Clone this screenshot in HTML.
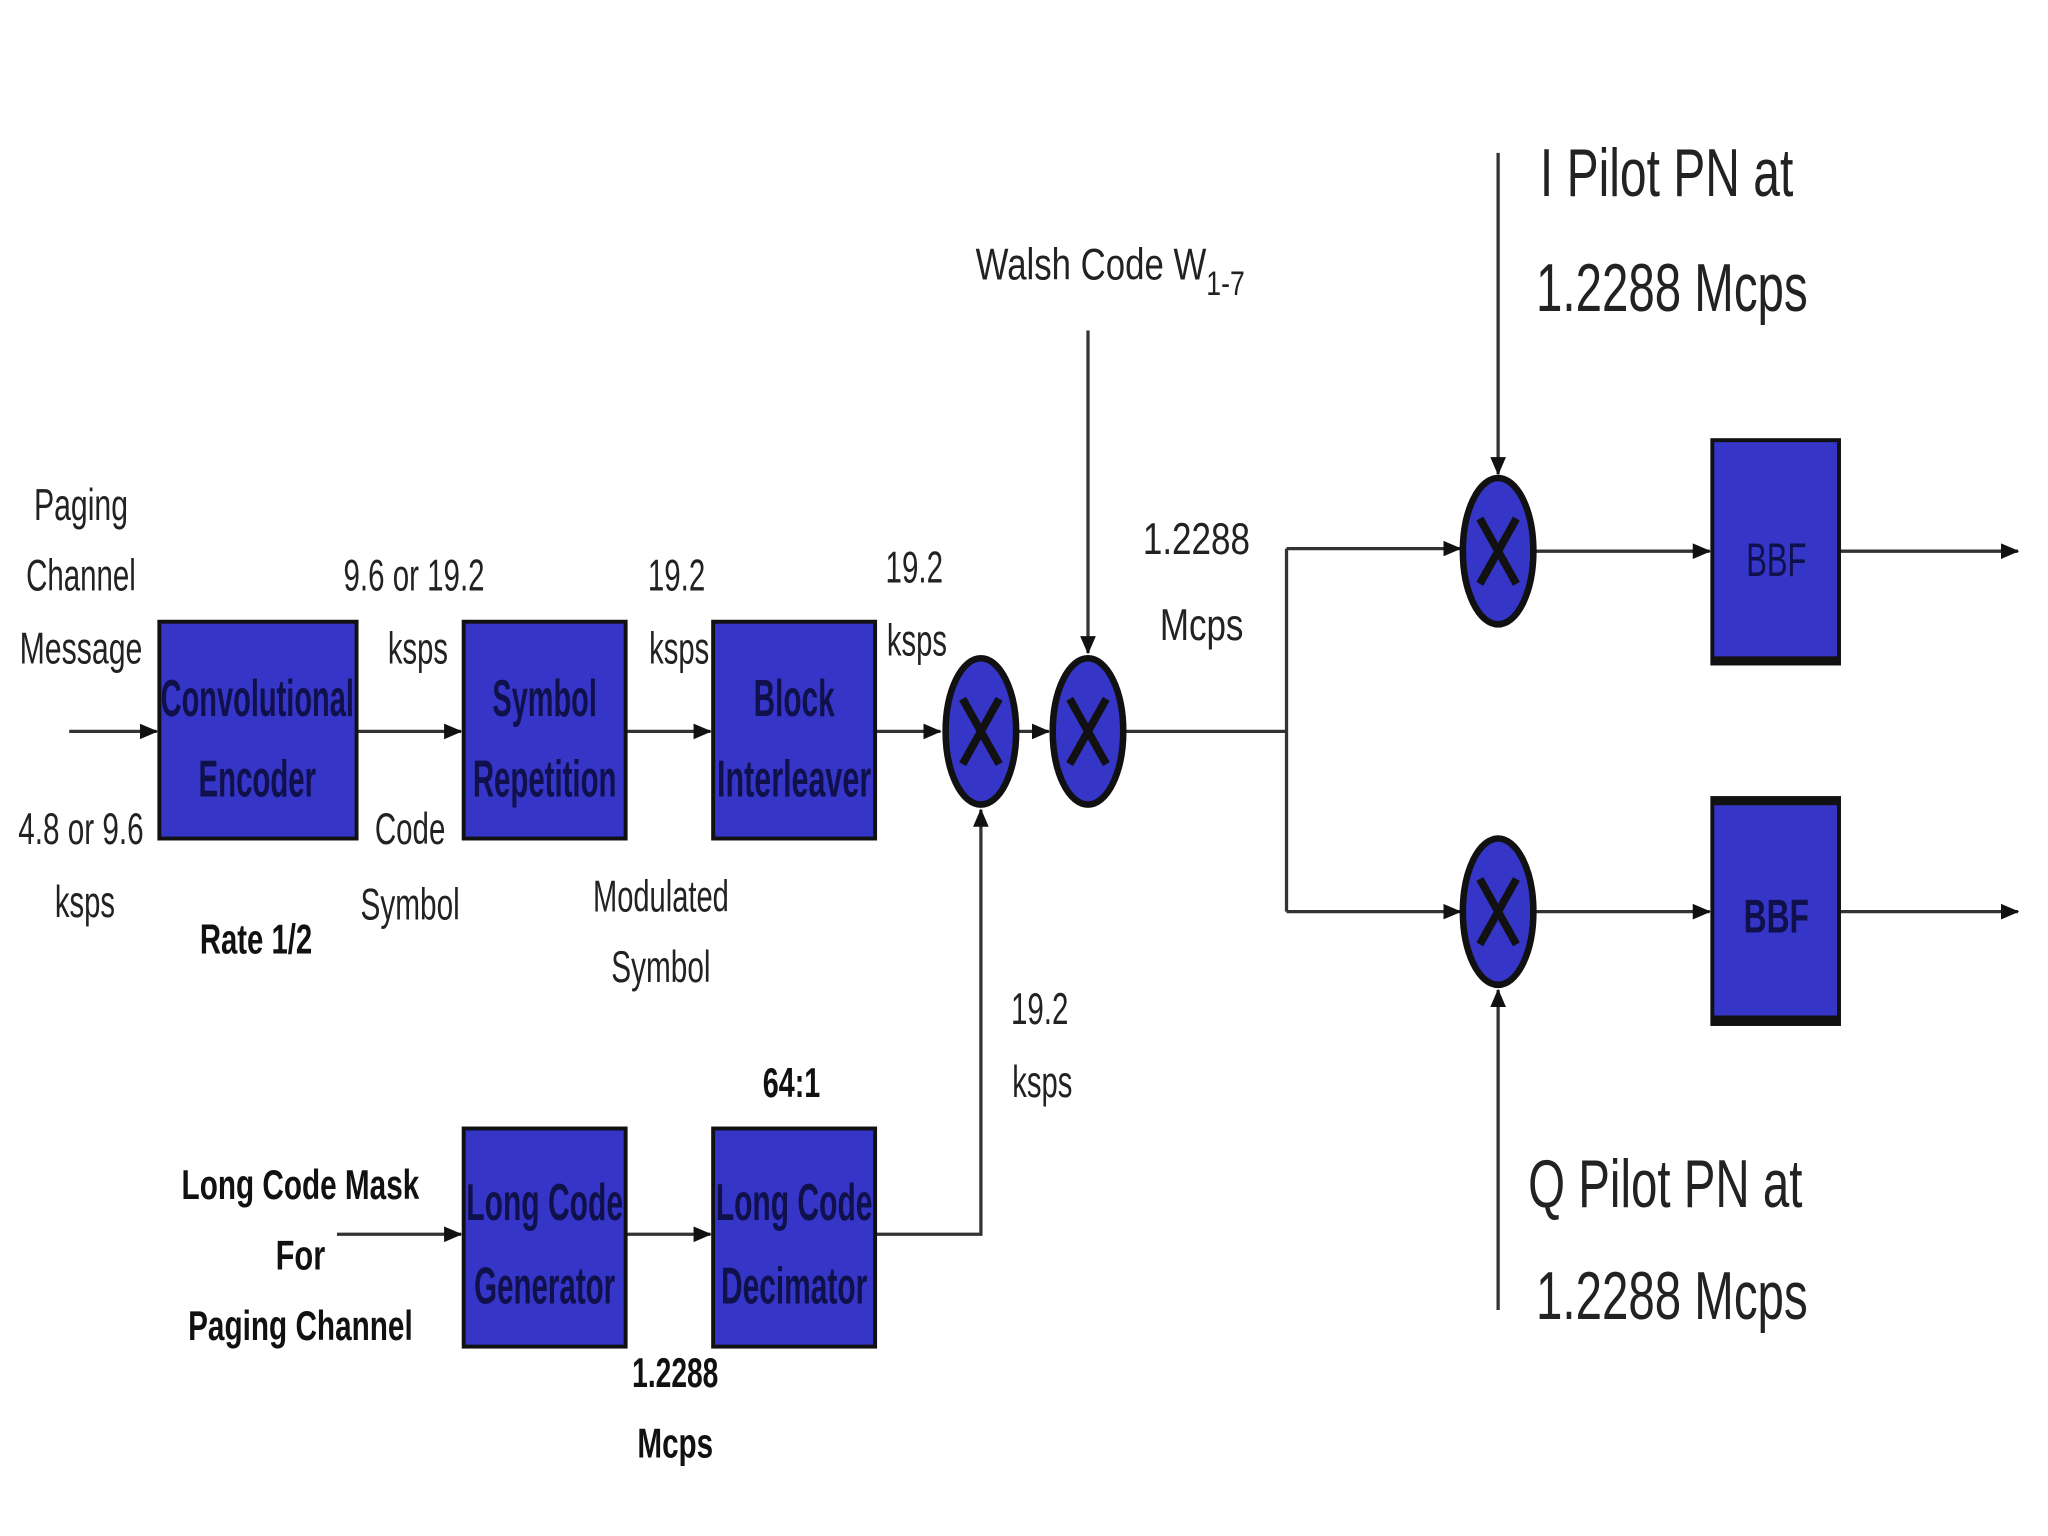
<!DOCTYPE html>
<html><head><meta charset="utf-8"><style>
html,body{margin:0;padding:0;background:#fff;}
svg{display:block;}
text{font-family:"Liberation Sans",sans-serif;}
</style></head><body>
<svg width="2048" height="1536" viewBox="0 0 1568 1176" preserveAspectRatio="none" xmlns="http://www.w3.org/2000/svg">
<defs>
<marker id="a" markerWidth="14" markerHeight="12" refX="13" refY="6" orient="auto" markerUnits="userSpaceOnUse">
<path d="M0,0 L14,6 L0,12 z" fill="#111"/></marker>
</defs>
<rect width="1568" height="1176" fill="#fff"/>
<g stroke="#333" stroke-width="2.5" fill="none">
<line x1="53" y1="560" x2="120" y2="560" marker-end="url(#a)"/>
<line x1="273" y1="560" x2="353" y2="560" marker-end="url(#a)"/>
<line x1="479" y1="560" x2="544" y2="560" marker-end="url(#a)"/>
<line x1="670" y1="560" x2="720" y2="560" marker-end="url(#a)"/>
<line x1="780" y1="560" x2="803" y2="560" marker-end="url(#a)"/>
<line x1="862" y1="560" x2="985" y2="560"/>
<line x1="985" y1="420" x2="985" y2="698"/>
<line x1="985" y1="420" x2="1118" y2="420" marker-end="url(#a)"/>
<line x1="985" y1="698" x2="1118" y2="698" marker-end="url(#a)"/>
<line x1="1176" y1="422" x2="1309" y2="422" marker-end="url(#a)"/>
<line x1="1176" y1="698" x2="1309" y2="698" marker-end="url(#a)"/>
<line x1="1408" y1="422" x2="1545" y2="422" marker-end="url(#a)"/>
<line x1="1408" y1="698" x2="1545" y2="698" marker-end="url(#a)"/>
<line x1="833" y1="253" x2="833" y2="500" marker-end="url(#a)"/>
<line x1="1147" y1="117" x2="1147" y2="363" marker-end="url(#a)"/>
<line x1="1147" y1="1003" x2="1147" y2="758" marker-end="url(#a)"/>
<line x1="258" y1="945" x2="353" y2="945" marker-end="url(#a)"/>
<line x1="479" y1="945" x2="544" y2="945" marker-end="url(#a)"/>
<polyline points="670,945 751,945 751,620" marker-end="url(#a)"/>
</g>
<g fill="#3535c8" stroke="#111" stroke-width="3">
<rect x="122" y="476" width="151" height="166"/>
<rect x="355" y="476" width="124" height="166"/>
<rect x="546" y="476" width="124" height="166"/>
<rect x="355" y="864" width="124" height="167"/>
<rect x="546" y="864" width="124" height="167"/>
<rect x="1311" y="337" width="97" height="171"/>
<rect x="1311" y="611" width="97" height="173"/>
</g>
<g stroke="#111" stroke-width="5" fill="none">
<line x1="1311" y1="505" x2="1408" y2="505"/>
<line x1="1311" y1="614" x2="1408" y2="614"/>
<line x1="1311" y1="780" x2="1408" y2="780"/>
</g>
<g fill="#3535c8" stroke="#111" stroke-width="5">
<ellipse cx="751" cy="560" rx="27" ry="56"/>
<ellipse cx="833" cy="560" rx="27" ry="56"/>
<ellipse cx="1147" cy="422" rx="27" ry="56"/>
<ellipse cx="1147" cy="698" rx="27" ry="56"/>
</g>
<g stroke="#111" stroke-width="6">
<line x1="737" y1="535" x2="765" y2="585"/><line x1="765" y1="535" x2="737" y2="585"/>
<line x1="819" y1="535" x2="847" y2="585"/><line x1="847" y1="535" x2="819" y2="585"/>
<line x1="1133" y1="397" x2="1161" y2="447"/><line x1="1161" y1="397" x2="1133" y2="447"/>
<line x1="1133" y1="673" x2="1161" y2="723"/><line x1="1161" y1="673" x2="1133" y2="723"/>
</g>
<g fill="#10104a" font-size="40" font-weight="bold" text-anchor="middle">
<text x="197" y="548" textLength="148" lengthAdjust="spacingAndGlyphs">Convolutional</text>
<text x="197" y="610" textLength="90" lengthAdjust="spacingAndGlyphs">Encoder</text>
<text x="417" y="548" textLength="80" lengthAdjust="spacingAndGlyphs">Symbol</text>
<text x="417" y="610" textLength="110" lengthAdjust="spacingAndGlyphs">Repetition</text>
<text x="608" y="548" textLength="62" lengthAdjust="spacingAndGlyphs">Block</text>
<text x="608" y="610" textLength="118" lengthAdjust="spacingAndGlyphs">Interleaver</text>
<text x="417" y="934" textLength="120" lengthAdjust="spacingAndGlyphs">Long Code</text>
<text x="417" y="998" textLength="108" lengthAdjust="spacingAndGlyphs">Generator</text>
<text x="608" y="934" textLength="120" lengthAdjust="spacingAndGlyphs">Long Code</text>
<text x="608" y="998" textLength="112" lengthAdjust="spacingAndGlyphs">Decimator</text>
<text x="1360" y="441" font-size="36" font-weight="normal" textLength="46" lengthAdjust="spacingAndGlyphs">BBF</text>
<text x="1360" y="714" font-size="36" textLength="50" lengthAdjust="spacingAndGlyphs">BBF</text>
</g>
<g fill="#222" font-size="34" text-anchor="middle">
<text x="62" y="398" textLength="72" lengthAdjust="spacingAndGlyphs">Paging</text>
<text x="62" y="452" textLength="84" lengthAdjust="spacingAndGlyphs">Channel</text>
<text x="62" y="508" textLength="94" lengthAdjust="spacingAndGlyphs">Message</text>
<text x="62" y="646" textLength="96" lengthAdjust="spacingAndGlyphs">4.8 or 9.6</text>
<text x="65" y="702" textLength="46" lengthAdjust="spacingAndGlyphs">ksps</text>
<text x="317" y="452" textLength="108" lengthAdjust="spacingAndGlyphs">9.6 or 19.2</text>
<text x="320" y="508" textLength="46" lengthAdjust="spacingAndGlyphs">ksps</text>
<text x="314" y="646" textLength="54" lengthAdjust="spacingAndGlyphs">Code</text>
<text x="314" y="704" textLength="76" lengthAdjust="spacingAndGlyphs">Symbol</text>
<text x="518" y="452" textLength="44" lengthAdjust="spacingAndGlyphs">19.2</text>
<text x="520" y="508" textLength="46" lengthAdjust="spacingAndGlyphs">ksps</text>
<text x="506" y="698" textLength="104" lengthAdjust="spacingAndGlyphs">Modulated</text>
<text x="506" y="752" textLength="76" lengthAdjust="spacingAndGlyphs">Symbol</text>
<text x="700" y="446" textLength="44" lengthAdjust="spacingAndGlyphs">19.2</text>
<text x="702" y="502" textLength="46" lengthAdjust="spacingAndGlyphs">ksps</text>
<text x="916" y="424" textLength="82" lengthAdjust="spacingAndGlyphs">1.2288</text>
<text x="920" y="490" textLength="64" lengthAdjust="spacingAndGlyphs">Mcps</text>
<text x="796" y="784" textLength="44" lengthAdjust="spacingAndGlyphs">19.2</text>
<text x="798" y="840" textLength="46" lengthAdjust="spacingAndGlyphs">ksps</text>
<text x="850" y="214" text-anchor="middle" textLength="206" lengthAdjust="spacingAndGlyphs">Walsh Code W<tspan font-size="26" dy="12">1-7</tspan></text>
<text x="1276" y="150" font-size="52" textLength="194" lengthAdjust="spacingAndGlyphs">I Pilot PN at</text>
<text x="1280" y="238" font-size="52" textLength="208" lengthAdjust="spacingAndGlyphs">1.2288 Mcps</text>
<text x="1275" y="924" font-size="52" textLength="210" lengthAdjust="spacingAndGlyphs">Q Pilot PN at</text>
<text x="1280" y="1010" font-size="52" textLength="208" lengthAdjust="spacingAndGlyphs">1.2288 Mcps</text>
</g>
<g fill="#111" font-size="32" font-weight="bold" text-anchor="middle">
<text x="196" y="730" textLength="86" lengthAdjust="spacingAndGlyphs">Rate 1/2</text>
<text x="606" y="840" textLength="44" lengthAdjust="spacingAndGlyphs">64:1</text>
<text x="230" y="918" textLength="182" lengthAdjust="spacingAndGlyphs">Long Code Mask</text>
<text x="230" y="972" textLength="38" lengthAdjust="spacingAndGlyphs">For</text>
<text x="230" y="1026" textLength="172" lengthAdjust="spacingAndGlyphs">Paging Channel</text>
<text x="517" y="1062" textLength="66" lengthAdjust="spacingAndGlyphs">1.2288</text>
<text x="517" y="1116" textLength="58" lengthAdjust="spacingAndGlyphs">Mcps</text>
</g>
</svg>
</body></html>
